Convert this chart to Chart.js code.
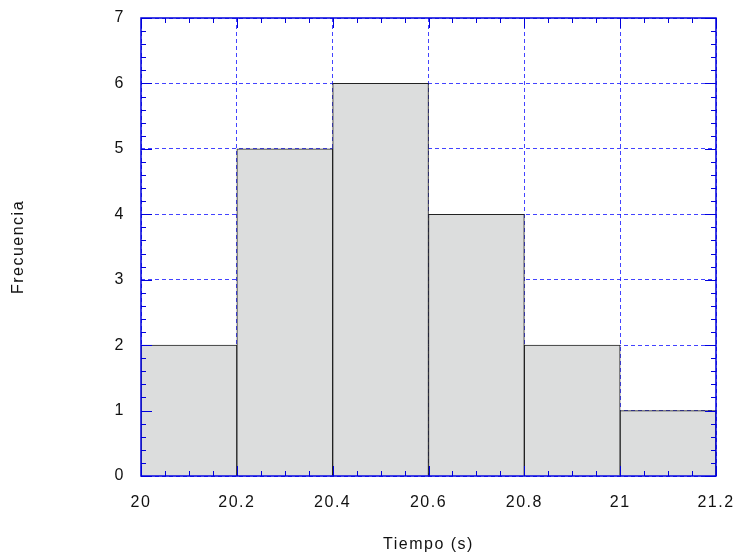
<!DOCTYPE html>
<html>
<head>
<meta charset="utf-8">
<script src="https://cdn.jsdelivr.net/npm/chart.js@4.4.0/dist/chart.umd.min.js"></script>
<style>
    body { margin: 0; background: #fff; }
    canvas { display: block; }
</style>
</head>
<body>
<canvas id="histChart" width="733" height="553"></canvas>
<script>
// Histogram data: bin centres (width 0.2 s) and counts
const binCenters = [20.1, 20.3, 20.5, 20.7, 20.9, 21.1];
const frequencies = [2, 5, 6, 4, 2, 1];
const xTickValues = [20, 20.2, 20.4, 20.6, 20.8, 21, 21.2];
const yTickValues = [0, 1, 2, 3, 4, 5, 6, 7];

const axisBlue = '#0000dd';
const gridBlue = 'rgba(20,20,255,0.8)';
const labelFont = {family: 'Liberation Sans, Arial, sans-serif', size: 16};
const titleFont = {family: 'Liberation Sans, Arial, sans-serif', size: 16, lineHeight: 1};

// Blue frame on all four sides with major/minor ticks pointing inwards
const framePlugin = {
    id: 'frame',
    beforeDraw(chart) {
        chart.ctx.letterSpacing = '1.5px';
    },
    afterDatasetsDraw(chart) {
        const {ctx, chartArea: a, scales: {x, y}} = chart;
        ctx.save();
        ctx.strokeStyle = axisBlue;
        ctx.lineWidth = 1;
        ctx.beginPath();
        // x ticks every 0.05, long ones every 0.2
        for (let i = 0; i <= 24; i++) {
            const px = Math.round(x.getPixelForValue(20 + i * 0.05)) + 0.5;
            const len = i % 4 === 0 ? 10 : 5;
            ctx.moveTo(px, a.bottom); ctx.lineTo(px, a.bottom - len);
            ctx.moveTo(px, a.top); ctx.lineTo(px, a.top + len);
        }
        // y ticks every 0.2, long ones every 1
        for (let i = 0; i <= 35; i++) {
            const py = Math.round(y.getPixelForValue(i * 0.2)) + 0.5;
            const len = i % 5 === 0 ? 11 : 5;
            ctx.moveTo(a.left, py); ctx.lineTo(a.left + len, py);
            ctx.moveTo(a.right, py); ctx.lineTo(a.right - len, py);
        }
        ctx.stroke();
        ctx.lineWidth = 1.5;
        ctx.strokeRect(a.left, a.top, a.right - a.left, a.bottom - a.top);
        ctx.restore();
    }
};

const ctx = document.getElementById('histChart').getContext('2d');
const histChart = new Chart(ctx, {
    type: 'bar',
    data: {
        datasets: [{
            label: 'Frecuencia',
            data: binCenters.map((c, i) => ({x: c, y: frequencies[i]})),
            backgroundColor: '#dcdddd',
            borderColor: '#222',
            borderWidth: 1,
            barPercentage: 1,
            categoryPercentage: 1
        }]
    },
    options: {
        responsive: false,
        animation: false,
        layout: {padding: {top: 18, right: 17, left: 0, bottom: 0}},
        plugins: {legend: {display: false}, tooltip: {enabled: false}},
        scales: {
            x: {
                type: 'linear',
                offset: false,
                min: 20,
                max: 21.2,
                afterBuildTicks: s => { s.ticks = xTickValues.map(v => ({value: v})); },
                afterFit: s => { s.height = 77; s.paddingLeft = 0; s.paddingRight = 0; },
                grid: {color: gridBlue, drawTicks: false, offset: false},
                border: {display: false, dash: [4, 3]},
                ticks: {
                    color: '#111',
                    font: labelFont,
                    padding: 17,
                    maxRotation: 0,
                    callback: v => String(v)
                },
                title: {
                    display: true,
                    text: 'Tiempo (s)',
                    color: '#111',
                    font: titleFont,
                    padding: {top: 0, bottom: 0}
                }
            },
            y: {
                min: 0,
                max: 7,
                afterBuildTicks: s => { s.ticks = yTickValues.map(v => ({value: v})); },
                afterFit: s => { s.width = 141; s.paddingTop = 0; s.paddingBottom = 0; },
                grid: {color: gridBlue, drawTicks: false},
                border: {display: false, dash: [4, 3]},
                ticks: {
                    color: '#111',
                    font: labelFont,
                    padding: 16
                },
                title: {
                    display: true,
                    text: 'Frecuencia',
                    color: '#111',
                    font: titleFont,
                    padding: {top: 11, bottom: 0}
                }
            }
        }
    },
    plugins: [framePlugin]
});
</script>
</body>
</html>
